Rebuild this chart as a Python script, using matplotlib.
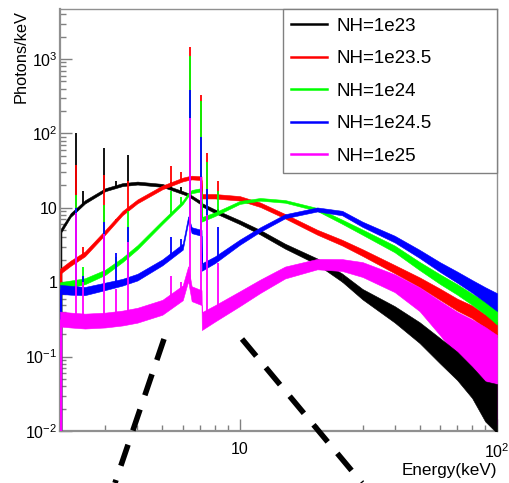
import numpy as np
import matplotlib
matplotlib.use('Agg')
import matplotlib.pyplot as plt
from matplotlib.lines import Line2D
from matplotlib.ticker import LogLocator, FixedLocator, FixedFormatter, NullFormatter

plt.rcParams['font.family'] = 'Liberation Sans'
plt.rcParams['mathtext.fontset'] = 'custom'
plt.rcParams['mathtext.rm'] = 'Liberation Sans'

energy = [2.0, 2.2, 2.5, 3.0, 3.5, 4.0, 5.0, 6.0, 6.3, 6.5, 7.1, 7.12, 8.0, 10, 12, 15,
          20, 25, 30, 40, 50, 60, 70, 80, 90, 100]

# continuum (photons/keV) per NH
black_cont = [4.7, 8, 12, 17.5, 20.5, 21.5, 20, 16, 15, 14, 11.5, 11, 9, 6.4, 4.7, 3.05,
              1.9, 1.15, 0.69, 0.37, 0.21, 0.12, 0.075, 0.045, 0.025, 0.02]
red_cont = [1.4, 1.8, 2.4, 4.7, 8.5, 12.2, 18.8, 24, 25, 25.5, 25, 14.3, 14.3, 13.4, 11, 7.7,
            4.7, 3.4, 2.5, 1.5, 1.0, 0.69, 0.5, 0.4, 0.3, 0.23]
green_cont = [0.9, 0.95, 1.03, 1.36, 2.0, 2.95, 6.4, 11.8, 15, 16.5, 17.5, 7, 8.2, 11.8, 13, 12.2,
              9.5, 6.5, 4.7, 2.8, 1.65, 1.1, 0.8, 0.59, 0.45, 0.34]
blue_cont = [0.8, 0.78, 0.76, 0.88, 1.0, 1.17, 1.85, 3.0, 7, 5, 4.6, 1.6, 2.0, 3.45, 5.1, 7.7,
             9.5, 8.5, 6.0, 3.8, 2.4, 1.6, 1.17, 0.88, 0.68, 0.54]
magenta_cont = [0.32, 0.31, 0.3, 0.31, 0.33, 0.36, 0.46, 0.72, 1.3, 0.7, 0.62, 0.3, 0.38, 0.6, 0.88, 1.35,
                1.75, 1.7, 1.48, 0.97, 0.59, 0.33, 0.2, 0.126, 0.079, 0.049]

# ruis: halve breedte van de band in decades
black_spread = [0.03, 0.025, 0.022, 0.02, 0.02, 0.02, 0.02, 0.02, 0.02, 0.02, 0.022, 0.022, 0.024, 0.026, 0.03, 0.033,
                0.04, 0.055, 0.07, 0.11, 0.14, 0.17, 0.19, 0.21, 0.27, 0.33]
red_spread = [0.035, 0.035, 0.032, 0.03, 0.028, 0.026, 0.025, 0.025, 0.025, 0.025, 0.025, 0.03, 0.03, 0.03, 0.03, 0.03,
              0.033, 0.038, 0.045, 0.055, 0.065, 0.075, 0.08, 0.085, 0.09, 0.1]
green_spread = [0.045, 0.045, 0.04, 0.035, 0.03, 0.028, 0.025, 0.022, 0.022, 0.022, 0.022, 0.03, 0.025, 0.02, 0.018, 0.018,
                0.02, 0.028, 0.035, 0.045, 0.055, 0.065, 0.07, 0.075, 0.085, 0.1]
blue_spread = [0.06, 0.06, 0.055, 0.05, 0.045, 0.045, 0.04, 0.04, 0.04, 0.04, 0.04, 0.05, 0.045, 0.035, 0.03, 0.027,
               0.027, 0.03, 0.035, 0.045, 0.055, 0.065, 0.075, 0.085, 0.1, 0.12]
magenta_spread = [0.1, 0.1, 0.1, 0.1, 0.1, 0.1, 0.1, 0.1, 0.1, 0.1, 0.1, 0.12, 0.11, 0.1, 0.09, 0.08,
                  0.07, 0.08, 0.1, 0.12, 0.16, 0.23, 0.3, 0.4, 0.5, 0.6]

# emissielijnen (keV) en piekhoogtes
line_energy = [2.31, 2.46, 2.96, 3.31, 3.69, 5.41, 5.90, 6.40, 7.06, 7.47, 8.26]
black_peaks = [100, 17, 63, 23, 52, 22, 19, 38, 14, 12, 9.5]
red_peaks = [38, 3, 28, 7, 23, 37, 30, 1440, 330, 54, 23]
green_peaks = [15, 1.6, 11, 2.2, 9, 17, 14, 1090, 270, 41, 17]
blue_peaks = [10, 1.2, 6.5, 2.5, 5.5, 4, 3.8, 380, 90, 18, 5.6]
magenta_peaks = [8.5, 1.0, 4.5, 0.8, 3.5, 1.2, 1.0, 160, 26, 8, 1.8]

labels = ['NH=1e23', 'NH=1e23.5', 'NH=1e24', 'NH=1e24.5', 'NH=1e25']
colors = ['#000000', '#ff0000', '#00ff00', '#0000ff', '#ff00ff']

x_ticks = [10, 100]
x_labels = ['10', r'$\mathregular{10^{2}}$']
y_ticks = [0.01, 0.1, 1, 10, 100, 1000]
y_labels = [r'$\mathregular{10^{-2}}$', r'$\mathregular{10^{-1}}$', '1', '10',
            r'$\mathregular{10^{2}}$', r'$\mathregular{10^{3}}$']

series = [
    (black_cont, black_spread, black_peaks),
    (red_cont, red_spread, red_peaks),
    (green_cont, green_spread, green_peaks),
    (blue_cont, blue_spread, blue_peaks),
    (magenta_cont, magenta_spread, magenta_peaks),
]

W, H = 509, 483
fig = plt.figure(figsize=(W / 100, H / 100), dpi=100)
ax = fig.add_axes([60 / W, 1 - 431 / H, 437 / W, 422 / H])
ax.set_xscale('log')
ax.set_yscale('log')

E = np.array(energy)
logE = np.log10(E)
for i, (cont, spread, peaks) in enumerate(series):
    col = colors[i]
    c = np.array(cont)
    s = np.array(spread)
    lo, hi = c * 10 ** -s, c * 10 ** s
    if i == 0:
        # zwart: bij hoge energie ligt het histogram boven magenta
        ax.fill_between(E, lo, hi, where=E <= 25, color=col, lw=0.4, zorder=2)
        ax.fill_between(E, lo, hi, where=E >= 25, color=col, lw=0.4, zorder=9)
    else:
        ax.fill_between(E, lo, hi, color=col, lw=0.4, zorder=2 + i)
    base = 10 ** np.interp(np.log10(line_energy), logE, np.log10(c))
    ax.vlines(line_energy, base, peaks, color=col, lw=1.3, zorder=2 + i)
    ax.vlines(energy[0], 0.01, cont[0], color=col, lw=2.5, zorder=2 + i)

ax.set_xlim(2, 100)
ax.set_ylim(0.01, 4700)

ax.xaxis.set_major_locator(FixedLocator(x_ticks))
ax.xaxis.set_major_formatter(FixedFormatter(x_labels))
ax.xaxis.set_minor_locator(LogLocator(base=10, subs=np.arange(2, 10), numticks=20))
ax.xaxis.set_minor_formatter(NullFormatter())
ax.yaxis.set_major_locator(FixedLocator(y_ticks))
ax.yaxis.set_major_formatter(FixedFormatter(y_labels))
ax.yaxis.set_minor_locator(LogLocator(base=10, subs=np.arange(2, 10), numticks=20))
ax.yaxis.set_minor_formatter(NullFormatter())

ax.tick_params(which='both', direction='in', color='#808080', width=1, top=False, right=False)
ax.tick_params(which='major', length=8.6)
ax.tick_params(which='minor', length=4.3)
ax.tick_params(axis='x', which='major', labelsize=11.5, pad=8)
ax.tick_params(axis='y', which='major', labelsize=11.5, pad=2)
for side in ['left', 'bottom']:
    ax.spines[side].set_color('#909090')
    ax.spines[side].set_linewidth(1.6)
for side in ['top', 'right']:
    ax.spines[side].set_color('#909090')
    ax.spines[side].set_linewidth(1.0)

handles = [Line2D([], [], color=colors[i], lw=1.8) for i in range(5)]
leg = ax.legend(handles, labels, loc='upper left', bbox_to_anchor=(223 / 437, 0, 214 / 437, 1.0),
                mode='expand', borderaxespad=0, fontsize=13.5, frameon=True, fancybox=False,
                edgecolor='#808080', framealpha=1, handlelength=1.9, handletextpad=0.5,
                labelspacing=0.82, borderpad=0.45)
leg.get_frame().set_linewidth(1.0)
leg.set_zorder(20)

fig.text(21 / W, 1 - 10 / H, 'Photons/keV', rotation=90, ha='center', va='top', fontsize=11.8)
fig.text(497 / W, 1 - 470 / H, 'Energy(keV)', ha='right', va='center', fontsize=12.3)

# gestippelde lijnen naar de inzet eronder
for (x0, y0), (x1, y1) in [((164, 339), (115, 483)), ((242, 339), (362, 483))]:
    fig.add_artist(Line2D([x0 / W, x1 / W], [1 - y0 / H, 1 - y1 / H], color='k', lw=4,
                          linestyle=(0, (4, 2.7)), zorder=30))

fig.savefig('out.png', dpi=100)
